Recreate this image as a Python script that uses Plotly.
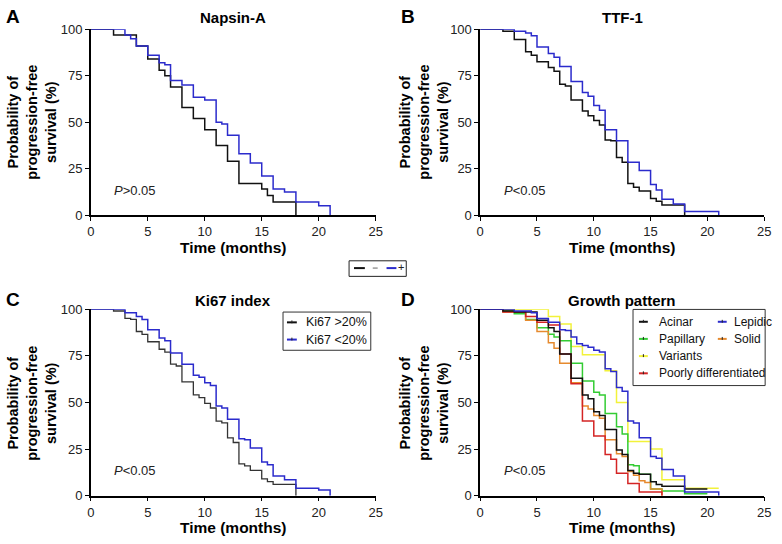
import plotly.graph_objects as go

# ---------------- data ----------------
# Panel A: Napsin-A
a_neg_t = [0, 2, 4, 5, 6, 6.5, 7, 8, 9, 10, 11, 12, 13, 15, 15.5, 16, 18]
a_neg_s = [100, 97, 91, 84, 78, 75, 69, 58, 52, 46, 37.5, 29, 17, 14, 10.5, 7, 0]
a_pos_t = [0, 3, 3.5, 4, 5, 6, 6.5, 7, 8, 9, 10, 11, 11.5, 12, 13, 14, 15, 16, 17, 18, 20, 21]
a_pos_s = [100, 97, 95, 91, 86, 82, 81, 72.5, 70, 63.5, 62, 50, 49, 43, 33, 28, 21, 14, 12.5, 7, 5, 0]

# Panel B: TTF-1
b_neg_t = [0, 2, 3, 4, 4.5, 5, 6, 6.5, 7, 7.5, 8, 9, 9.5, 10, 10.5, 11, 11.5, 12, 12.5, 13, 13.5, 14, 15, 15.5, 16, 18]
b_neg_s = [100, 99, 94.5, 88, 86, 82.5, 79.5, 77.5, 70.5, 69.5, 62, 56, 53.5, 51, 48.5, 40.5, 40, 31, 28.5, 17, 15, 13, 9, 7.5, 5.5, 0]
b_pos_t = [0, 3, 4, 4.5, 5, 6, 6.5, 7, 8, 9, 9.5, 10, 10.5, 11, 12, 13, 14, 15, 15.5, 16, 17, 18, 21]
b_pos_s = [100, 99, 98, 96.5, 90.5, 87, 85, 80, 72, 66, 64, 59, 56.5, 46, 40, 28.5, 24, 16.5, 13.5, 8.5, 6, 2, 0]

# Panel C: Ki67 index
c_hi_t = [0, 2, 3, 3.5, 4, 4.5, 5, 6, 6.5, 7, 7.5, 8, 9, 9.5, 10, 10.5, 11, 11.5, 12, 12.5, 13, 13.5, 14, 15, 15.5, 16, 18]
c_hi_s = [100, 99, 95, 94.5, 88, 86.5, 82.5, 78.5, 77, 70.5, 69.5, 61, 54, 52.5, 49.5, 47, 40, 39, 31, 28.5, 17, 16, 13.5, 9, 7.5, 6, 0]
c_lo_t = [0, 3, 4, 4.5, 5, 6, 6.5, 7, 8, 9, 9.5, 10, 10.5, 11, 11.5, 12, 13, 13.5, 14, 15, 15.5, 16, 17, 18, 20, 21]
c_lo_s = [100, 98, 96, 94.5, 89, 84.5, 83, 76.5, 70.5, 64.5, 63.5, 60.5, 59, 48, 47, 41, 30.5, 30, 25.5, 18, 16.5, 10.5, 8.5, 4, 3, 0]

# Panel D: Growth pattern
acinar_t = [0, 2, 3, 5, 6, 6.5, 7, 8, 9, 9.5, 10, 10.5, 11, 12, 12.5, 13, 13.5, 14, 15, 15.5, 16, 18, 20]
acinar_s = [100, 99, 98.5, 94, 90, 88, 76, 63, 54, 52, 45, 43, 35.5, 24.5, 22, 13.5, 12, 11.5, 7.5, 6, 5, 3.5, 3.5]
lepidic_t = [0, 3, 4.5, 5, 6, 7, 7.5, 8, 8.5, 9, 9.5, 10, 10.5, 11, 11.5, 12, 12.5, 13, 13.5, 14, 15, 15.5, 16, 17, 18, 21]
lepidic_s = [100, 99, 98, 95, 93, 89, 88.5, 85, 81.5, 80.5, 79.5, 78, 77, 68, 66.5, 58, 56, 40, 39, 31, 21, 20, 14, 10.5, 2, 0]
papillary_t = [0, 2, 3, 4, 5, 6, 6.5, 7, 8, 9, 10, 10.5, 11, 12, 12.5, 13, 13.5, 14, 15, 16, 18, 20]
papillary_s = [100, 99, 97.5, 94.5, 90, 86.5, 85, 83, 71, 61.5, 55.5, 54, 44, 37, 33, 16.5, 16, 11.5, 3.5, 2.5, 1, 1]
solid_t = [0, 2, 4, 5, 6, 6.5, 7, 8, 9, 9.5, 10, 10.5, 11, 12, 12.5, 13, 13.5, 14, 14.5, 15, 16]
solid_s = [100, 98.5, 94, 88, 82, 79, 71, 60.5, 48, 46.5, 43, 41.5, 30, 22.5, 21, 13, 11, 8, 7, 3.5, 0]
variants_t = [0, 6, 7, 8, 9, 11, 12, 13, 15, 16, 18, 21]
variants_s = [100, 96, 92, 80, 75.5, 67, 50, 29, 25, 8.5, 4, 4]
poorly_t = [0, 2, 4, 5, 6, 7, 8, 9, 10, 11, 11.5, 12, 13, 14, 16]
poorly_s = [100, 98.5, 96, 93, 91.5, 76, 60, 40, 32, 22, 19.5, 12, 6.5, 2, 0]

x_ticks = [0, 5, 10, 15, 20, 25]
y_ticks = [0, 25, 50, 75, 100]

BLACK = "#111111"
BLUE = "#2b2bcc"
GREEN = "#33cc33"
YELLOW = "#f2f23a"
ORANGE = "#e68a2e"
RED = "#d42424"
FONT = "Liberation Sans, Arial, sans-serif"

W, H = 782, 544
def px(x):
    return x / W
def py(y):
    return 1 - y / H

fig = go.Figure()

def add(t, s, color, ax, name, width=1.5):
    suffix = "" if ax == 1 else str(ax)
    fig.add_trace(go.Scatter(x=t, y=s, mode="lines", line=dict(color=color, width=width, shape="hv"),
                             name=name, showlegend=False, cliponaxis=False,
                             xaxis="x" + suffix, yaxis="y" + suffix))

add(a_neg_t, a_neg_s, BLACK, 1, "-")
add(a_pos_t, a_pos_s, BLUE, 1, "+")
add(b_neg_t, b_neg_s, BLACK, 2, "-")
add(b_pos_t, b_pos_s, BLUE, 2, "+")
add(c_hi_t, c_hi_s, "#333333", 3, "Ki67 >20%", 1.3)
add(c_lo_t, c_lo_s, BLUE, 3, "Ki67 <20%")
add(variants_t, variants_s, YELLOW, 4, "Variants")
add(papillary_t, papillary_s, GREEN, 4, "Papillary")
add(solid_t, solid_s, ORANGE, 4, "Solid")
add(poorly_t, poorly_s, RED, 4, "Poorly differentiated")
add(acinar_t, acinar_s, BLACK, 4, "Acinar")
add(lepidic_t, lepidic_s, BLUE, 4, "Lepidic")

xdoms = [(px(88), px(377)), (px(483), px(771))]
ydoms = [(py(214), py(23)), (py(502.5), py(310.7))]

axis_common = dict(showline=True, linecolor="black", linewidth=1.5, ticks="outside", ticklen=4,
                   tickwidth=1.2, tickcolor="black", showgrid=False, zeroline=False,
                   tickfont=dict(family=FONT, size=13, color="#222"))

layout = dict(width=W, height=H, margin=dict(l=0, r=0, t=0, b=0), plot_bgcolor="white",
              paper_bgcolor="white", showlegend=False)
for i in range(4):
    r, c = divmod(i, 2)
    suffix = "" if i == 0 else str(i + 1)
    layout["xaxis" + suffix] = dict(axis_common, domain=xdoms[c], range=[0, 25], tickvals=x_ticks,
                                    anchor="y" + suffix)
    layout["yaxis" + suffix] = dict(axis_common, domain=ydoms[r], range=[0, 100], tickvals=y_ticks,
                                    anchor="x" + suffix)
fig.update_layout(**layout)

def colspan(col, txt):
    return '<span style="color:%s">%s</span>' % (col, txt)

ann = []
shapes = []
titles = ["Napsin-A", "TTF-1", "Ki67 index", "Growth pattern"]
letters = ["A", "B", "C", "D"]
pvals = ["<i>P</i>&gt;0.05", "<i>P</i>&lt;0.05", "<i>P</i>&lt;0.05", "<i>P</i>&lt;0.05"]
for i in range(4):
    r, c = divmod(i, 2)
    xc = (xdoms[c][0] + xdoms[c][1]) / 2
    top = 11 if r == 0 else 301.5
    ann.append(dict(x=xc, y=py(top), xref="paper", yref="paper", text="<b>%s</b>" % titles[i],
                    showarrow=False, xanchor="center", yanchor="middle",
                    font=dict(family=FONT, size=15, color="black")))
    lx = 9 if c == 0 else 410
    ann.append(dict(x=px(lx), y=py(top - 1), xref="paper", yref="paper", text="<b>%s</b>" % letters[i],
                    showarrow=False, xanchor="center", yanchor="middle",
                    font=dict(family=FONT, size=19, color="black")))
    xt_y = 247 if r == 0 else 535
    ann.append(dict(x=xc, y=py(xt_y), xref="paper", yref="paper", text="<b>Time (months)</b>",
                    showarrow=False, xanchor="center", yanchor="middle",
                    font=dict(family=FONT, size=15.5, color="black")))
    yt_x = 28.5 if c == 0 else 426
    yt_y = 119 if r == 0 else 408
    ann.append(dict(x=px(yt_x), y=py(yt_y), xref="paper", yref="paper",
                    text="<b>Probability of<br>progression-free<br>survival (%)</b>", textangle=-90,
                    showarrow=False, xanchor="center", yanchor="middle",
                    font=dict(family=FONT, size=14.5, color="black")))
    suffix = "" if i == 0 else str(i + 1)
    ann.append(dict(x=1.9, y=13.5, xref="x" + suffix, yref="y" + suffix, text=pvals[i],
                    showarrow=False, xanchor="left", yanchor="middle",
                    font=dict(family=FONT, size=13, color="#222")))

def sample(x0, x1, y, col):
    shapes.append(dict(type="line", xref="paper", yref="paper", x0=px(x0), x1=px(x1), y0=py(y), y1=py(y),
                       line=dict(color=col, width=2), layer="above"))
    # tiny censor tick in the middle of the sample
    xm = (x0 + x1) / 2
    shapes.append(dict(type="line", xref="paper", yref="paper", x0=px(xm), x1=px(xm), y0=py(y - 2), y1=py(y + 1),
                       line=dict(color="#222", width=1), layer="above"))

# small stray legend between A and B
shapes.append(dict(type="rect", xref="paper", yref="paper", x0=px(350), x1=px(408), y0=py(277), y1=py(261),
                   line=dict(color="#222", width=1), fillcolor="white", layer="above"))
shapes.append(dict(type="line", xref="paper", yref="paper", x0=px(355), x1=px(366), y0=py(268.5), y1=py(268.5),
                   line=dict(color="#111", width=2), layer="above"))
shapes.append(dict(type="line", xref="paper", yref="paper", x0=px(374), x1=px(379), y0=py(268.5), y1=py(268.5),
                   line=dict(color="#999", width=1.5), layer="above"))
shapes.append(dict(type="line", xref="paper", yref="paper", x0=px(388), x1=px(398), y0=py(268.5), y1=py(268.5),
                   line=dict(color=BLUE, width=2), layer="above"))
ann.append(dict(x=px(403), y=py(267), xref="paper", yref="paper", text="+", showarrow=False,
                xanchor="center", yanchor="middle", font=dict(family=FONT, size=11, color="#222")))

# legend C
shapes.append(dict(type="rect", xref="paper", yref="paper", x0=px(283), x1=px(372), y0=py(353), y1=py(313.7),
                   line=dict(color="#333", width=1), fillcolor="white", layer="above"))
for lab, col, yy in [("Ki67 &gt;20%", BLACK, 324.3), ("Ki67 &lt;20%", BLUE, 342)]:
    sample(287, 297, yy, col)
    ann.append(dict(x=px(304), y=py(yy), xref="paper", yref="paper",
                    text=lab, showarrow=False,
                    xanchor="left", yanchor="middle", font=dict(family=FONT, size=12.5, color="#111")))
# legend D
shapes.append(dict(type="rect", xref="paper", yref="paper", x0=px(638), x1=px(772), y0=py(389.3), y1=py(311),
                   line=dict(color="#333", width=1), fillcolor="white", layer="above"))
legD = [("Acinar", BLACK, 644, 323.7), ("Papillary", GREEN, 644, 341.3),
        ("Variants", YELLOW, 644, 359), ("Poorly differentiated", RED, 644, 376.7),
        ("Lepidic", BLUE, 724, 323.7), ("Solid", ORANGE, 724, 341.3)]
for lab, col, xx, yy in legD:
    sample(xx, xx + 9, yy, col)
    tx = xx + 18 if xx < 700 else xx + 14
    ann.append(dict(x=px(tx), y=py(yy), xref="paper", yref="paper",
                    text=lab, showarrow=False,
                    xanchor="left", yanchor="middle", font=dict(family=FONT, size=12, color="#111")))

fig.update_layout(annotations=ann, shapes=shapes)
fig.write_html("out.html", config={"displayModeBar": False},
               post_script="document.body.style.margin='0';document.body.style.overflow='hidden';")
